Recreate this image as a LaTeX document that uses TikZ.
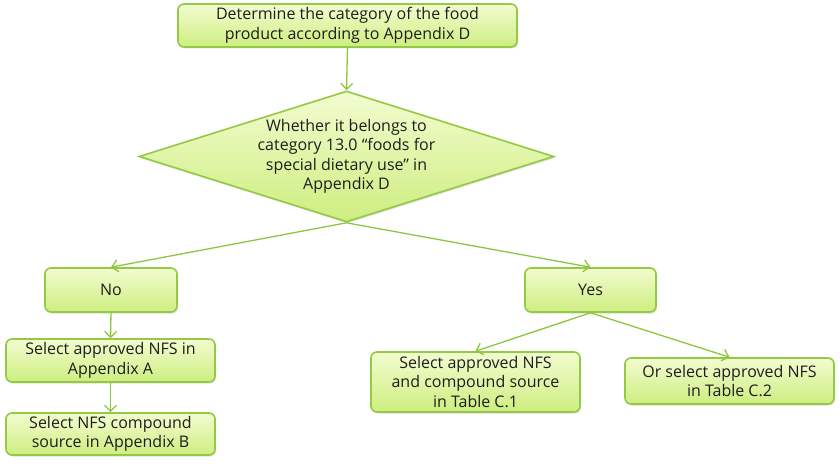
\documentclass[tikz,border=0pt]{standalone}
\usepackage{fontspec}
\setmainfont{Open Sans}
\usetikzlibrary{arrows.meta,shapes.geometric,shadows}
\definecolor{bordergreen}{HTML}{94C943}
\definecolor{arrowgreen}{HTML}{8DC63F}
\definecolor{filltop}{HTML}{F3FCD0}
\definecolor{fillbot}{HTML}{CDEE80}
\definecolor{txt}{HTML}{1E1E1E}
\tikzset{
  box/.style={draw=bordergreen, line width=1.6pt, rounded corners=6pt,
    top color=filltop, bottom color=fillbot, align=center, text=txt,
    font=\fontsize{16}{19.5}\selectfont, inner sep=0pt,
    drop shadow={opacity=0.25, shadow xshift=1pt, shadow yshift=-1.5pt}},
  decision/.style={draw=bordergreen, line width=1.6pt, shape=diamond,
    top color=filltop, bottom color=fillbot, inner sep=0pt,
    drop shadow={opacity=0.25, shadow xshift=1pt, shadow yshift=-1.5pt}},
  dtext/.style={align=center, text=txt, font=\fontsize{16}{19.5}\selectfont, inner sep=0pt},
  conn/.style={draw=arrowgreen, line width=1.3pt,
    -{Straight Barb[length=6pt,width=12pt,line width=1.3pt]}}
}
\begin{document}
\begin{tikzpicture}[x=1pt,y=-1pt]
\useasboundingbox (0,0) rectangle (840,470);
\node[box, minimum width=339, minimum height=43] (top) at (347.5,25.5)
  {Determine the category of the food\\product according to Appendix D};
\node[decision, minimum width=415, minimum height=131] (dec) at (346.5,156.5) {};
\node[dtext] (dectext) at (dec.center)
  {Whether it belongs to\\category 13.0 “foods for\\special dietary use” in\\Appendix D};
\node[box, minimum width=132, minimum height=44] (no) at (111,290) {No};
\node[box, minimum width=131, minimum height=44] (yes) at (590.5,290) {Yes};
\node[box, minimum width=209, minimum height=43] (a) at (110.5,360.5)
  {Select approved NFS in\\Appendix A};
\node[box, minimum width=209, minimum height=42] (b) at (110.5,434)
  {Select NFS compound\\source in Appendix B};
\node[box, minimum width=209, minimum height=60] (c1) at (475.5,382)
  {Select approved NFS\\and compound source\\in Table C.1};
\node[box, minimum width=209, minimum height=46] (c2) at (729.5,381)
  {Or select approved NFS\\in Table C.2};
\draw[conn] (top.south) -- (dec.north);
\draw[conn] (dec.south) -- (no.north);
\draw[conn] (dec.south) -- (yes.north);
\draw[conn] (no.south) -- (a.north);
\draw[conn] (a.south) -- (b.north);
\draw[conn] (yes.south) -- (c1.north);
\draw[conn] (yes.south) -- (c2.north);
\end{tikzpicture}
\end{document}
